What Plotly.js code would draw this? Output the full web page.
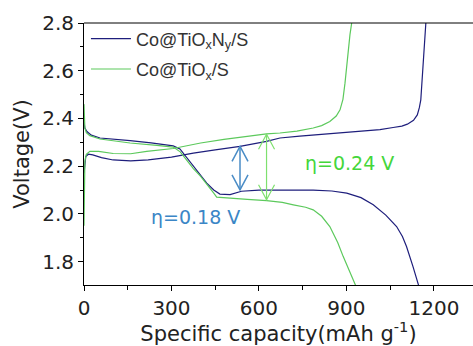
<!DOCTYPE html>
<html>
<head>
<meta charset="utf-8">
<script src="https://cdn.plot.ly/plotly-3.0.1.min.js"></script>
<style>html,body{margin:0;padding:0;background:#fff;}#chart{width:473px;height:346px;}</style>
</head>
<body>
<div id="chart"></div>
<script>
// Co@TiOxNy/S (navy)
const navyDisX = [0, 3, 10, 25, 55, 100, 158, 230, 306, 329, 352, 375, 400, 421, 445, 466, 501, 540, 600, 700, 786, 850, 901, 950, 992, 1035, 1072, 1092, 1106, 1128, 1143, 1150];
const navyDisY = [2.385, 2.36, 2.345, 2.33, 2.318, 2.312, 2.307, 2.298, 2.285, 2.272, 2.235, 2.199, 2.16, 2.129, 2.1, 2.083, 2.081, 2.095, 2.1, 2.101, 2.1, 2.096, 2.087, 2.068, 2.038, 1.995, 1.947, 1.905, 1.863, 1.78, 1.715, 1.69];
const navyChgX = [0, 2, 6, 15, 30, 60, 100, 160, 220, 300, 375, 450, 535, 626, 672, 740, 809, 855, 910, 960, 1015, 1060, 1090, 1109, 1130, 1143, 1150, 1155, 1158, 1161, 1165, 1168, 1172, 1175];
const navyChgY = [2.17, 2.21, 2.24, 2.25, 2.247, 2.236, 2.226, 2.222, 2.226, 2.238, 2.255, 2.268, 2.283, 2.304, 2.318, 2.326, 2.332, 2.336, 2.341, 2.346, 2.353, 2.362, 2.368, 2.376, 2.392, 2.415, 2.445, 2.478, 2.54, 2.62, 2.70, 2.758, 2.8, 2.85];
// Co@TiOx/S (green)
const greenDisX = [0, 1, 3, 8, 20, 55, 158, 250, 306, 330, 350, 375, 400, 425, 445, 455, 500, 560, 626, 680, 718, 760, 786, 815, 843, 870, 889, 910, 929, 935];
const greenDisY = [2.46, 2.40, 2.36, 2.34, 2.328, 2.314, 2.297, 2.287, 2.28, 2.26, 2.227, 2.19, 2.157, 2.12, 2.087, 2.07, 2.065, 2.061, 2.056, 2.048, 2.038, 2.028, 2.017, 1.99, 1.947, 1.88, 1.821, 1.76, 1.71, 1.69];
const greenChgX = [0, 1, 3, 8, 20, 50, 100, 160, 215, 306, 400, 480, 560, 626, 672, 730, 786, 815, 843, 865, 878, 888, 895, 901, 906, 912, 918, 922];
const greenChgY = [1.95, 2.10, 2.22, 2.25, 2.262, 2.262, 2.253, 2.252, 2.262, 2.274, 2.297, 2.312, 2.325, 2.335, 2.339, 2.347, 2.36, 2.37, 2.387, 2.41, 2.436, 2.48, 2.548, 2.62, 2.688, 2.75, 2.8, 2.85];

const seriesNames = ["Co@TiO<sub>x</sub>N<sub>y</sub>/S", "Co@TiO<sub>x</sub>/S"];
const seriesColors = ["#1e1e7c", "#5cc95c"];

// overpotential markers
const etaLabels = ["η=0.18 V", "η=0.24 V"];
const etaX = [535, 626];
const etaTop = [2.283, 2.334];
const etaBot = [2.101, 2.059];
const etaColors = ["#3b86c6", "#44d63a"];
const etaArrowColors = ["#4a8cc6", "#7ee06e"];
const etaLabelPos = [[384, 1.989], [912, 2.213]];

const xTicks = [0, 300, 600, 900, 1200];
const yTicks = [1.8, 2.0, 2.2, 2.4, 2.6, 2.8];

const font = "DejaVu Sans, sans-serif";
const legFont = "Liberation Sans, Arial, sans-serif";

const traces = [
  {x: navyDisX, y: navyDisY, name: seriesNames[0], legendgroup: "a", line: {color: seriesColors[0], width: 1.2}},
  {x: navyChgX, y: navyChgY, name: seriesNames[0], legendgroup: "a", showlegend: false, line: {color: seriesColors[0], width: 1.2}},
  {x: greenDisX, y: greenDisY, name: seriesNames[1], legendgroup: "b", line: {color: seriesColors[1], width: 1.2}},
  {x: greenChgX, y: greenChgY, name: seriesNames[1], legendgroup: "b", showlegend: false, line: {color: seriesColors[1], width: 1.2}}
].map(t => Object.assign({type: "scatter", mode: "lines", hoverinfo: "skip"}, t));

const shapes = [
  {type: "line", xref: "paper", yref: "paper", x0: 0, x1: 1, y0: 1, y1: 1, line: {color: "#000", width: 1}}
];
const annotations = [];
for (let i = 0; i < etaX.length; i++) {
  const c = etaArrowColors[i];
  const w = i === 0 ? 1.5 : 1.2;
  shapes.push({type: "line", xref: "x", yref: "y", x0: etaX[i], x1: etaX[i], y0: etaBot[i], y1: etaTop[i], line: {color: c, width: w}});
  shapes.push({type: "path", xref: "x", yref: "y", xsizemode: "pixel", ysizemode: "pixel", xanchor: etaX[i], yanchor: etaTop[i],
    path: "M -8,-15 L 0,0 L 8,-15", line: {color: c, width: w}});
  shapes.push({type: "path", xref: "x", yref: "y", xsizemode: "pixel", ysizemode: "pixel", xanchor: etaX[i], yanchor: etaBot[i],
    path: "M -8,15 L 0,0 L 8,15", line: {color: c, width: w}});
  annotations.push({x: etaLabelPos[i][0], y: etaLabelPos[i][1], xref: "x", yref: "y", text: etaLabels[i], showarrow: false,
    font: {family: font, size: 19, color: etaColors[i]}});
}

const layout = {
  width: 473, height: 346,
  margin: {l: 84, r: 0, t: 23, b: 61},
  paper_bgcolor: "#fff", plot_bgcolor: "#fff",
  font: {family: font, color: "#222"},
  showlegend: true,
  legend: {x: 0.005, y: 1.01, xanchor: "left", yanchor: "top", bgcolor: "rgba(255,255,255,0)",
    font: {family: legFont, size: 18, color: "#333"}, tracegroupgap: 4, itemwidth: 40},
  xaxis: {
    range: [0, 1334], tickvals: xTicks, ticktext: xTicks.map(String),
    showgrid: false, zeroline: false, showline: true, linecolor: "#000", linewidth: 1,
    ticks: "outside", ticklen: 5, tickcolor: "#000", tickfont: {family: font, size: 20, color: "#222"},
    minor: {dtick: 150, ticks: "outside", ticklen: 4, tickcolor: "#000", showgrid: false},
    title: {text: "Specific capacity(mAh g<sup>-1</sup>)", font: {family: font, size: 21, color: "#222"}, standoff: 6}
  },
  yaxis: {
    range: [1.702, 2.8], tickvals: yTicks, ticktext: yTicks.map(v => v.toFixed(1)),
    showgrid: false, zeroline: false, showline: true, linecolor: "#000", linewidth: 1,
    ticks: "outside", ticklen: 5, tickcolor: "#000", tickfont: {family: font, size: 20, color: "#222"},
    minor: {dtick: 0.1, ticks: "outside", ticklen: 3, tickcolor: "#000", showgrid: false},
    title: {text: "Voltage(V)", font: {family: font, size: 21, color: "#222"}, standoff: 6}
  },
  shapes: shapes,
  annotations: annotations
};

Plotly.newPlot("chart", traces, layout, {displayModeBar: false, staticPlot: true});
</script>
</body>
</html>
